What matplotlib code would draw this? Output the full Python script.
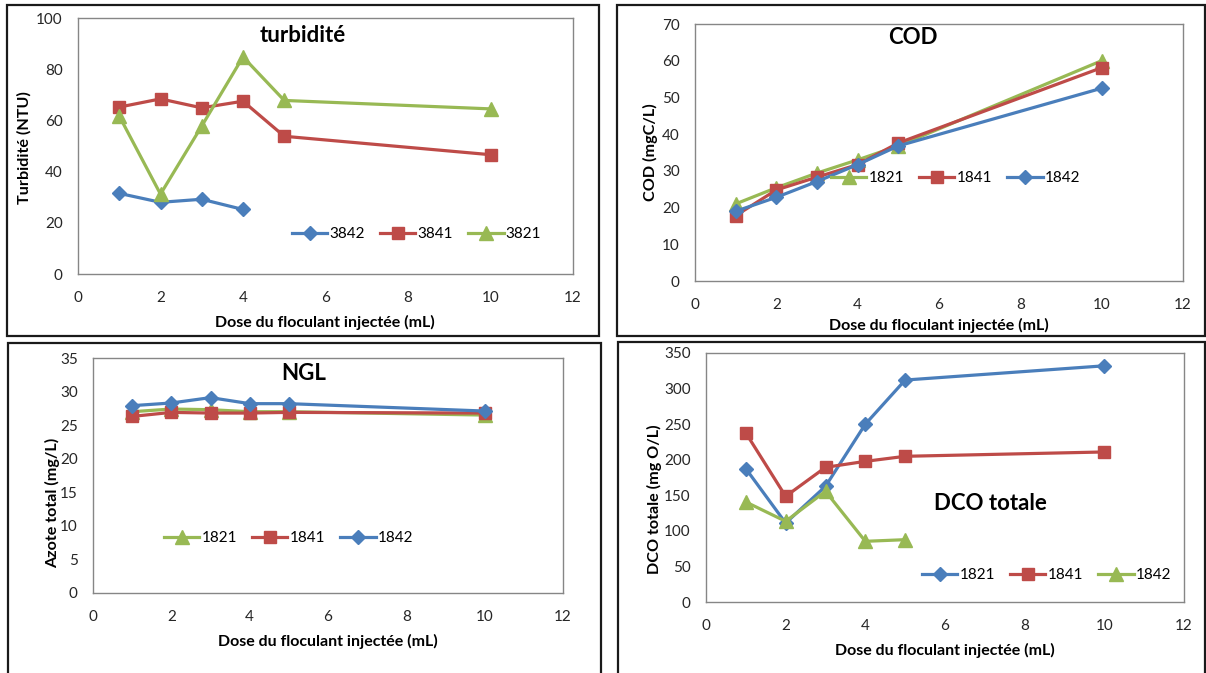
import matplotlib
matplotlib.use("Agg")
import matplotlib.pyplot as plt
from matplotlib.patches import Rectangle

plt.rcParams['font.family'] = ['Lato', 'DejaVu Sans']

W, H = 1206, 673

# ---------------- data ----------------
dose = [1, 2, 3, 4, 5, 10]

turb_3842 = [31.5, 28.0, 29.2, 25.2]
turb_3841 = [65.2, 68.4, 64.9, 67.5, 53.8, 46.6]
turb_3821 = [61.7, 31.2, 57.8, 84.8, 67.8, 64.5]

cod_1821 = [21.0, 25.4, 29.4, 33.0, 36.8, 60.0]
cod_1841 = [17.8, 24.8, 28.3, 31.7, 37.6, 58.1]
cod_1842 = [19.0, 22.8, 27.1, 31.7, 36.8, 52.5]

ngl_1821 = [27.0, 27.4, 27.3, 27.0, 27.0, 26.5]
ngl_1841 = [26.3, 26.9, 26.8, 26.8, 26.9, 26.8]
ngl_1842 = [27.9, 28.3, 29.1, 28.2, 28.2, 27.1]

dco_1821 = [187.4, 111.0, 162.6, 250.0, 312.0, 332.0]
dco_1841 = [237.6, 148.5, 189.3, 197.7, 204.8, 210.9]
dco_1842 = [140.6, 113.4, 155.6, 85.3, 87.6]

x_ticks = [0, 2, 4, 6, 8, 10, 12]
xlabel = "Dose du floculant injectée (mL)"

BLUE = '#4A7EBB'
RED = '#BE4B48'
GREEN = '#98B954'
STY = {
    'blue': dict(color=BLUE, marker='D', markersize=7.5),
    'red': dict(color=RED, marker='s', markersize=9),
    'green': dict(color=GREEN, marker='^', markersize=10),
}

fig = plt.figure(figsize=(W / 100, H / 100), dpi=100)


def fx(px):
    return px / W


def fy(py):
    return 1 - py / H


def add_box(l, t, r, b):
    fig.patches.append(Rectangle((fx(l), fy(b)), fx(r) - fx(l), fy(t) - fy(b),
                                 transform=fig.transFigure, fill=False,
                                 edgecolor='#1a1a1a', linewidth=1.6, zorder=0))


def make_ax(l, t, r, b):
    ax = fig.add_axes([fx(l), fy(b), fx(r) - fx(l), fy(t) - fy(b)])
    for s in ax.spines.values():
        s.set_color('#868686')
        s.set_linewidth(1.0)
    ax.tick_params(length=0, labelsize=11, colors='#262626')
    ax.tick_params(axis='y', pad=11)
    ax.tick_params(axis='x', pad=12)
    ax.set_xlim(0, 12)
    ax.set_xticks(x_ticks)
    return ax


def plot_series(ax, xs, ys, key, label):
    st = STY[key]
    ax.plot(xs[:len(ys)], ys, color=st['color'], marker=st['marker'],
            markersize=st['markersize'], linewidth=2.3, label=label,
            markeredgecolor=st['color'], clip_on=False)


def legend(ax, x_px_left, y_px, axbox):
    l, t, r, b = axbox
    bx = (x_px_left - l) / (r - l)
    by = (b - y_px) / (b - t)
    ax.legend(loc='center left', bbox_to_anchor=(bx, by), ncol=3, frameon=False,
              fontsize=11, handlelength=2.3, handletextpad=0.15,
              columnspacing=1.0, borderpad=0, borderaxespad=0)


def ylab(text, x, y):
    fig.text(fx(x), fy(y), text, rotation=90, ha='center', va='center',
             fontsize=11.6, fontweight='bold', color='black')


def xlab(text, x, y):
    fig.text(fx(x), fy(y), text, ha='center', va='center',
             fontsize=11.5, fontweight='bold', color='black')


def title(text, x, y, size=16):
    fig.text(fx(x), fy(y), text, ha='center', va='center',
             fontsize=size, fontweight='bold', color='black')


# ---------------- panel boxes ----------------
add_box(7, 5, 599, 336)
add_box(617, 5, 1205, 336)
add_box(8, 343, 601, 680)
add_box(618, 342, 1205, 680)

# ---------------- turbidity ----------------
b1 = (78, 18, 573, 274)
ax1 = make_ax(*b1)
ax1.set_ylim(0, 100)
ax1.set_yticks(range(0, 101, 20))
plot_series(ax1, dose, turb_3842, 'blue', '3842')
plot_series(ax1, dose, turb_3841, 'red', '3841')
plot_series(ax1, dose, turb_3821, 'green', '3821')
legend(ax1, 292, 234, b1)
title("turbidité", 303, 35)
ylab("Turbidité (NTU)", 24, 148)
xlab(xlabel, 325, 322)

# ---------------- COD ----------------
b2 = (695, 24, 1183, 281)
ax2 = make_ax(*b2)
ax2.set_ylim(0, 70)
ax2.set_yticks(range(0, 71, 10))
plot_series(ax2, dose, cod_1821, 'green', '1821')
plot_series(ax2, dose, cod_1841, 'red', '1841')
plot_series(ax2, dose, cod_1842, 'blue', '1842')
legend(ax2, 831, 178, b2)
title("COD", 913, 37)
ylab("COD (mgC/L)", 650, 152)
xlab(xlabel, 939, 325)

# ---------------- NGL ----------------
b3 = (93, 358, 563, 593)
ax3 = make_ax(*b3)
ax3.set_ylim(0, 35)
ax3.set_yticks(range(0, 36, 5))
plot_series(ax3, dose, ngl_1821, 'green', '1821')
plot_series(ax3, dose, ngl_1841, 'red', '1841')
plot_series(ax3, dose, ngl_1842, 'blue', '1842')
legend(ax3, 164, 538, b3)
title("NGL", 304, 374)
ylab("Azote total (mg/L)", 53, 503)
xlab(xlabel, 328, 641)

# ---------------- DCO totale ----------------
b4 = (706, 353, 1184, 602)
ax4 = make_ax(*b4)
ax4.set_ylim(0, 350)
ax4.set_yticks(range(0, 351, 50))
plot_series(ax4, dose, dco_1821, 'blue', '1821')
plot_series(ax4, dose, dco_1841, 'red', '1841')
plot_series(ax4, dose, dco_1842, 'green', '1842')
legend(ax4, 922, 575, b4)
title("DCO totale", 990, 504)
ylab("DCO totale (mg O/L)", 654, 499)
xlab(xlabel, 945, 650)

fig.savefig("out.png", dpi=100)
